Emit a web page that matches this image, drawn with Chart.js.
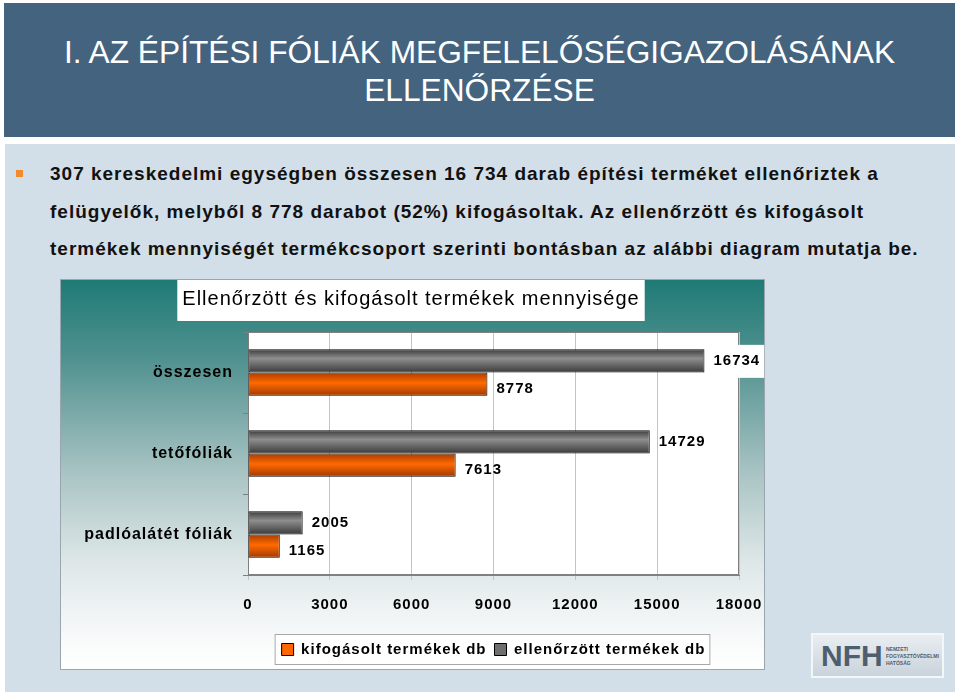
<!DOCTYPE html>
<html>
<head>
<meta charset="utf-8">
<script src="https://cdn.jsdelivr.net/npm/chart.js@4.4.1/dist/chart.umd.min.js"></script>
<style>
body{margin:0;width:960px;height:696px;background:#fff;position:relative;overflow:hidden;font-family:"Liberation Sans",Arial,sans-serif}
#header{position:absolute;left:4px;top:3px;width:951px;height:104px;padding-top:30px;background:#44637e;color:#fff;text-align:center;font-size:31.7px;line-height:38px}
#content{position:absolute;left:5px;top:144px;width:950px;height:548px;background:#d3dfe8}
#bullet{position:absolute;left:16px;top:170px;width:7px;height:7px;background:#f28a2e}
#text{position:absolute;left:50px;top:155px;font-size:19px;letter-spacing:1px;font-weight:bold;line-height:37.5px;color:#111;white-space:nowrap}
#frame{position:absolute;left:60px;top:279px;border:1px solid #9aa6ad;background:linear-gradient(to bottom,#1f7a76 0%,#4f918f 20%,#aac4c4 50%,#dde6e7 72%,#f8fafa 92%,#ffffff 100%);width:703px;height:389px}
#frame canvas{display:block}
#logo{position:absolute;left:811px;top:633px;width:129px;height:41px;border:2px solid #f4f7f9;background:linear-gradient(to bottom,#e9eef2,#c9d3db)}
#logo .big{position:absolute;left:8px;top:5px;font-size:30px;font-weight:bold;color:#4d5e6e;line-height:32px}
#logo .small{position:absolute;left:73px;top:11px;font-size:5px;line-height:7px;font-weight:bold;color:#4d5e6e}
</style>
</head>
<body>
<div id="header">I. AZ ÉPÍTÉSI FÓLIÁK MEGFELELŐSÉGIGAZOLÁSÁNAK<br>ELLENŐRZÉSE</div>
<div id="content"></div>
<div id="bullet"></div>
<div id="text">307 kereskedelmi egységben összesen 16 734 darab építési terméket ellenőriztek a<br>felügyelők, melyből 8 778 darabot (52%) kifogásoltak. Az ellenőrzött és kifogásolt<br>termékek mennyiségét termékcsoport szerinti bontásban az alábbi diagram mutatja be.</div>
<div id="frame"><canvas id="myChart" width="724" height="389"></canvas></div>
<div id="logo"><div class="big">NFH</div><div class="small">NEMZETI<br>FOGYASZTÓVÉDELMI<br>HATÓSÁG</div></div>
<script>
const categories = ['összesen', 'tetőfóliák', 'padlóalátét fóliák'];
const checkedValues = [16734, 14729, 2005];   // ellenőrzött termékek db
const rejectedValues = [8778, 7613, 1165];    // kifogásolt termékek db
const xTickValues = [0, 3000, 6000, 9000, 12000, 15000, 18000];
const chartTitle = 'Ellenőrzött és kifogásolt termékek mennyisége';

const FONT = "'Liberation Sans', Arial, sans-serif";

// letter spacing has to be set again after each canvas reset
const spacing = {
    id: 'spacing',
    beforeUpdate(chart) { chart.ctx.letterSpacing = '1px'; },
    beforeDraw(chart) { chart.ctx.letterSpacing = '1px'; }
};

// white boxes behind the plot, the title and the legend
const boxes = {
    id: 'boxes',
    beforeDraw(chart) {
        const c = chart.ctx;
        const a = chart.chartArea;
        c.save();
        c.fillStyle = '#fff';
        c.fillRect(a.left, a.top, a.right - a.left, a.bottom - a.top);

        const t = chart.titleBlock;
        c.font = '20px ' + FONT;
        const tw = c.measureText(chartTitle).width;
        const cx = (t.left + t.right) / 2;
        c.fillRect(cx - tw / 2 - 5, t.top, tw + 10, t.height - 11);

        const hb = chart.legend.legendHitBoxes;
        if (hb.length) {
            const l = Math.min(...hb.map(h => h.left)) - 7;
            const r = Math.max(...hb.map(h => h.left + h.width)) + 5;
            const mid = hb[0].top + hb[0].height / 2;
            c.fillRect(l, mid - 15.5, r - l, 31);
            c.strokeStyle = '#a8a8a8';
            c.lineWidth = 1;
            c.strokeRect(l + 0.5, mid - 15, r - l - 1, 30);
        }
        c.restore();
    },
    beforeDatasetsDraw(chart) {
        const c = chart.ctx;
        const a = chart.chartArea;
        c.save();
        c.strokeStyle = '#808080';
        c.lineWidth = 1;
        c.strokeRect(a.left + 0.5, a.top + 0.5, a.right - a.left - 1, a.bottom - a.top - 1);
        c.restore();

        // shiny gradient on every bar
        chart.data.datasets.forEach((ds, di) => {
            chart.getDatasetMeta(di).data.forEach(el => {
                const top = el.y - el.height / 2;
                const g = chart.ctx.createLinearGradient(0, top, 0, top + el.height);
                if (di === 0) {
                    g.addColorStop(0, '#3a3a3a');
                    g.addColorStop(0.4, '#8e8e8e');
                    g.addColorStop(1, '#3a3a3a');
                } else {
                    g.addColorStop(0, '#a83c00');
                    g.addColorStop(0.45, '#ff6a00');
                    g.addColorStop(1, '#a03800');
                }
                el.options = Object.assign({}, el.options, {backgroundColor: g});
            });
        });
    }
};

// value labels right of the bars
const valueLabels = {
    id: 'valueLabels',
    afterDatasetsDraw(chart) {
        const c = chart.ctx;
        const a = chart.chartArea;
        c.save();
        c.font = 'bold 15px ' + FONT;
        c.textBaseline = 'middle';
        chart.data.datasets.forEach((ds, di) => {
            chart.getDatasetMeta(di).data.forEach((el, i) => {
                const txt = String(ds.data[i]);
                const tw = c.measureText(txt).width;
                const x = el.x + 9;
                const y = el.y + (di === 1 ? 5 : 0);
                if (x + tw > a.right) {
                    c.fillStyle = '#fff';
                    c.fillRect(el.x + 1, y - 16, tw + 12, 33);
                }
                c.fillStyle = '#000';
                c.fillText(txt, x, y);
            });
        });
        c.restore();
    }
};

const ctx = document.getElementById('myChart').getContext('2d');
const myChart = new Chart(ctx, {
    type: 'bar',
    data: {
        labels: categories,
        datasets: [{
            label: 'ellenőrzött termékek db',
            data: checkedValues,
            backgroundColor: '#6e6e6e',
            borderColor: '#000',
            borderWidth: 1,
            borderSkipped: false
        }, {
            label: 'kifogásolt termékek db',
            data: rejectedValues,
            backgroundColor: '#ff6600',
            borderColor: '#000',
            borderWidth: 1,
            borderSkipped: false
        }]
    },
    options: {
        indexAxis: 'y',
        responsive: false,
        animation: false,
        events: [],
        categoryPercentage: 0.575,
        barPercentage: 1,
        layout: {padding: {left: 22, right: 46, top: 0, bottom: 2}},
        scales: {
            x: {
                min: 0,
                max: 18000,
                afterBuildTicks: s => { s.ticks = xTickValues.map(v => ({value: v})); },
                afterFit: s => { s.paddingRight = 0; s.paddingLeft = 0; s.height += 4; },
                ticks: {
                    callback: v => String(v),
                    color: '#000',
                    padding: 16,
                    font: {family: FONT, size: 15, weight: 'bold'}
                },
                grid: {color: '#c4c4c4', tickLength: 5},
                border: {color: '#808080'}
            },
            y: {
                afterFit: s => { s.width = 165; },
                ticks: {
                    color: '#000',
                    padding: 10,
                    font: {family: FONT, size: 16, weight: 'bold'}
                },
                grid: {drawOnChartArea: false, color: '#808080', tickLength: 5},
                border: {color: '#808080'}
            }
        },
        plugins: {
            title: {
                display: true,
                text: chartTitle,
                color: '#000',
                padding: {top: 7, bottom: 21},
                font: {family: FONT, size: 20, weight: 'normal'}
            },
            legend: {
                position: 'bottom',
                fullSize: false,
                reverse: true,
                labels: {
                    color: '#000',
                    boxWidth: 12,
                    boxHeight: 12,
                    padding: 8,
                    font: {family: FONT, size: 15, weight: 'bold'}
                }
            },
            tooltip: {enabled: false}
        }
    },
    plugins: [spacing, boxes, valueLabels]
});
</script>
</body>
</html>
